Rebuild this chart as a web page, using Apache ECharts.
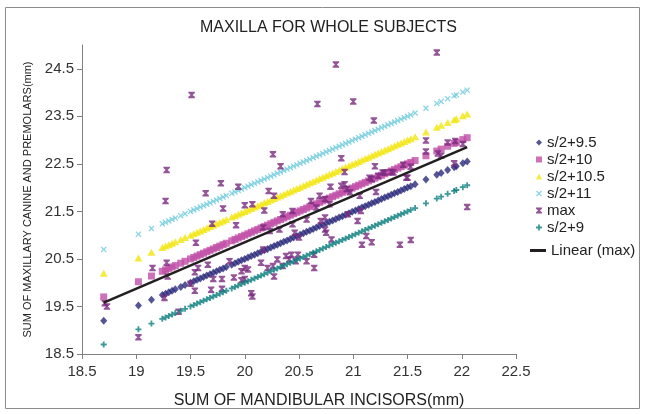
<!DOCTYPE html>
<html>
<head>
<meta charset="utf-8">
<script src="https://cdn.jsdelivr.net/npm/echarts@6/dist/echarts.min.js"></script>
<style>
html,body{margin:0;padding:0;background:#fff;}
#c{width:645px;height:414px;}
</style>
</head>
<body>
<div id="c"></div>
<script>
// ---- data ----
var sValues = [18.70,19.02,19.14,19.24,19.27,19.30,19.33,19.36,19.41,19.45,
19.50,19.53,19.56,19.59,19.62,19.65,19.68,19.71,19.74,19.77,
19.80,19.83,19.88,19.91,19.94,19.97,20.00,20.03,20.06,20.09,
20.12,20.15,20.18,20.21,20.24,20.27,20.30,20.33,20.36,20.39,
20.42,20.45,20.48,20.51,20.54,20.57,20.60,20.63,20.66,20.69,
20.72,20.75,20.78,20.81,20.84,20.87,20.90,20.93,20.96,20.99,
21.02,21.05,21.08,21.11,21.14,21.17,21.20,21.23,21.26,21.29,
21.32,21.35,21.38,21.41,21.44,21.47,21.50,21.53,21.57,21.67,
21.77,21.81,21.87,21.93,21.95,22.01,22.05];

var ySPlus9 = [18.70,19.02,19.14,19.24,19.27,19.30,19.33,19.36,19.41,19.45,
19.50,19.53,19.56,19.59,19.62,19.65,19.68,19.71,19.74,19.77,
19.80,19.83,19.88,19.91,19.94,19.97,20.00,20.03,20.06,20.09,
20.12,20.15,20.18,20.21,20.24,20.27,20.30,20.33,20.36,20.39,
20.42,20.45,20.48,20.51,20.54,20.57,20.60,20.63,20.66,20.69,
20.72,20.75,20.78,20.81,20.84,20.87,20.90,20.93,20.96,20.99,
21.02,21.05,21.08,21.11,21.14,21.17,21.20,21.23,21.26,21.29,
21.32,21.35,21.38,21.41,21.44,21.47,21.50,21.53,21.57,21.67,
21.77,21.81,21.87,21.93,21.95,22.01,22.05];

var ySPlus95 = [19.20,19.52,19.64,19.74,19.77,19.80,19.83,19.86,19.91,19.95,
20.00,20.03,20.06,20.09,20.12,20.15,20.18,20.21,20.24,20.27,
20.30,20.33,20.38,20.41,20.44,20.47,20.50,20.53,20.56,20.59,
20.62,20.65,20.68,20.71,20.74,20.77,20.80,20.83,20.86,20.89,
20.92,20.95,20.98,21.01,21.04,21.07,21.10,21.13,21.16,21.19,
21.22,21.25,21.28,21.31,21.34,21.37,21.40,21.43,21.46,21.49,
21.52,21.55,21.58,21.61,21.64,21.67,21.70,21.73,21.76,21.79,
21.82,21.85,21.88,21.91,21.94,21.97,22.00,22.03,22.07,22.17,
22.27,22.31,22.37,22.43,22.45,22.51,22.55];

var ySPlus10 = [19.70,20.02,20.14,20.24,20.27,20.30,20.33,20.36,20.41,20.45,
20.50,20.53,20.56,20.59,20.62,20.65,20.68,20.71,20.74,20.77,
20.80,20.83,20.88,20.91,20.94,20.97,21.00,21.03,21.06,21.09,
21.12,21.15,21.18,21.21,21.24,21.27,21.30,21.33,21.36,21.39,
21.42,21.45,21.48,21.51,21.54,21.57,21.60,21.63,21.66,21.69,
21.72,21.75,21.78,21.81,21.84,21.87,21.90,21.93,21.96,21.99,
22.02,22.05,22.08,22.11,22.14,22.17,22.20,22.23,22.26,22.29,
22.32,22.35,22.38,22.41,22.44,22.47,22.50,22.53,22.57,22.67,
22.77,22.81,22.87,22.93,22.95,23.01,23.05];

var ySPlus105 = [20.20,20.52,20.64,20.74,20.77,20.80,20.83,20.86,20.91,20.95,
21.00,21.03,21.06,21.09,21.12,21.15,21.18,21.21,21.24,21.27,
21.30,21.33,21.38,21.41,21.44,21.47,21.50,21.53,21.56,21.59,
21.62,21.65,21.68,21.71,21.74,21.77,21.80,21.83,21.86,21.89,
21.92,21.95,21.98,22.01,22.04,22.07,22.10,22.13,22.16,22.19,
22.22,22.25,22.28,22.31,22.34,22.37,22.40,22.43,22.46,22.49,
22.52,22.55,22.58,22.61,22.64,22.67,22.70,22.73,22.76,22.79,
22.82,22.85,22.88,22.91,22.94,22.97,23.00,23.03,23.07,23.17,
23.27,23.31,23.37,23.43,23.45,23.51,23.55];

var ySPlus11 = [20.70,21.02,21.14,21.24,21.27,21.30,21.33,21.36,21.41,21.45,
21.50,21.53,21.56,21.59,21.62,21.65,21.68,21.71,21.74,21.77,
21.80,21.83,21.88,21.91,21.94,21.97,22.00,22.03,22.06,22.09,
22.12,22.15,22.18,22.21,22.24,22.27,22.30,22.33,22.36,22.39,
22.42,22.45,22.48,22.51,22.54,22.57,22.60,22.63,22.66,22.69,
22.72,22.75,22.78,22.81,22.84,22.87,22.90,22.93,22.96,22.99,
23.02,23.05,23.08,23.11,23.14,23.17,23.20,23.23,23.26,23.29,
23.32,23.35,23.38,23.41,23.44,23.47,23.50,23.53,23.57,23.67,
23.77,23.81,23.87,23.93,23.95,24.01,24.05];

var maxX = [19.51,19.28,19.78,19.94,21.77,20.84,20.67,21.00,21.19,20.26,
20.33,20.89,21.20,20.92,20.79,21.67,21.67,21.78,21.46,21.53,
21.27,21.35,21.15,21.23,21.50,20.92,21.87,21.94,22.01,21.93,
22.05,21.81,19.27,19.64,19.80,20.00,20.07,19.70,19.92,19.55,
19.28,19.15,19.57,19.54,19.66,19.86,20.00,20.03,19.97,19.90,
20.00,19.71,19.79,19.29,19.97,19.50,19.69,19.79,19.54,20.06,
20.07,19.26,18.71,18.73,19.39,19.02,20.22,20.27,20.18,20.61,
20.69,20.74,20.78,20.66,20.89,20.94,20.97,21.06,21.21,21.17,
21.29,21.37,20.44,20.35,20.17,20.23,20.32,20.44,20.57,20.70,
20.74,20.46,20.50,20.74,20.75,20.80,20.95,21.07,21.04,21.12,
21.17,21.08,21.53,21.43,20.17,20.30,20.26,20.21,20.35,20.38,
20.43,20.49,20.41,20.47,20.57,20.64,20.64,20.27,20.15,21.49];

var maxY = [23.95,22.37,22.09,22.02,24.84,24.59,23.76,23.81,23.41,22.70,
22.45,22.62,22.45,22.33,22.02,22.99,22.76,22.72,22.48,22.44,
22.32,22.33,22.21,22.25,22.21,22.07,22.95,22.98,22.92,22.51,
21.59,22.67,21.72,21.88,21.56,21.63,21.65,21.24,21.21,20.84,
20.42,20.31,20.31,20.22,20.38,20.45,20.31,20.28,20.24,20.11,
20.08,20.08,20.08,20.13,20.05,19.98,19.85,19.87,19.83,19.78,
19.71,19.68,19.57,19.50,19.39,18.85,21.93,21.83,21.52,21.72,
21.83,21.76,21.65,21.58,22.04,21.97,21.90,21.83,21.91,22.18,
22.32,22.32,21.51,21.44,21.16,21.09,21.12,21.23,21.33,21.30,
21.37,21.05,20.95,21.12,21.05,20.91,21.44,21.51,21.30,20.98,
20.85,20.80,20.90,20.80,20.70,20.49,20.35,20.31,20.35,20.56,
20.59,20.59,20.49,20.45,20.45,20.31,20.59,20.13,20.42,22.21];

var trendX = [18.70, 22.05];
var trendY = [19.58, 22.85];

var xTicks = [18.5,19,19.5,20,20.5,21,21.5,22,22.5];
var yTicks = [18.5,19.5,20.5,21.5,22.5,23.5,24.5];

var markerNames = ['s/2+9.5','s/2+10','s/2+10.5','s/2+11','max','s/2+9'];
var lineNames = ['Linear (max)'];

function pairs(xs, ys){ var out=[]; for(var i=0;i<xs.length;i++) out.push([xs[i], ys[i]]); return out; }

var SYM_X = 'path://M0,1.5 L1.5,0 L5,3.5 L8.5,0 L10,1.5 L6.5,5 L10,8.5 L8.5,10 L5,6.5 L1.5,10 L0,8.5 L3.5,5 Z';
var SYM_PLUS = 'path://M3.5,0 H6.5 V3.5 H10 V6.5 H6.5 V10 H3.5 V6.5 H0 V3.5 H3.5 Z';
var SYM_HOUR = 'path://M0,0 H10 V2 L6.5,5 L10,8 V10 H0 V8 L3.5,5 L0,2 Z';

var FONT = 'Liberation Sans, Arial, sans-serif';

var chart = echarts.init(document.getElementById('c'), null, {renderer:'canvas'});
chart.setOption({
  animation: false,
  backgroundColor: '#ffffff',
  textStyle: {fontFamily: FONT},
  title: {
    text: 'MAXILLA FOR WHOLE SUBJECTS',
    left: 195, top: 15,
    textStyle: {fontFamily: FONT, fontSize: 16, fontWeight: 'normal', color: '#222'}
  },
  graphic: [{
    type: 'rect', shape: {x: 5.5, y: 7.5, width: 634, height: 401},
    style: {fill: 'none', stroke: '#8c8c8c', lineWidth: 1}, silent: true, z: -1
  }],
  grid: {left: 82, right: 129, top: 45, bottom: 60},
  legend: [{
    orient: 'vertical', left: 531, top: 130,
    itemWidth: 6, itemHeight: 6, itemGap: 2,
    textStyle: {fontFamily: FONT, fontSize: 15, color: '#222'},
    data: markerNames
  }, {
    orient: 'vertical', left: 525, top: 238,
    itemWidth: 16, itemHeight: 3,
    icon: 'rect',
    textStyle: {fontFamily: FONT, fontSize: 15, color: '#222'},
    data: lineNames
  }],
  xAxis: {
    type: 'value', min: 18.5, max: 22.5, interval: 0.5,
    name: 'SUM OF MANDIBULAR INCISORS(mm)', nameLocation: 'middle', nameGap: 39,
    nameTextStyle: {fontFamily: FONT, fontSize: 16, color: '#222', padding: [0, 0, 0, 40]},
    axisLine: {show: true, lineStyle: {color: '#808080', width: 1}},
    axisTick: {show: true, length: 5, inside: false, customValues: xTicks, lineStyle: {color: '#808080'}},
    axisLabel: {customValues: xTicks, fontFamily: FONT, fontSize: 15, color: '#333', margin: 10},
    splitLine: {show: false}
  },
  yAxis: {
    type: 'value', min: 18.5, max: 25, interval: 1,
    name: 'SUM OF MAXILLARY CANINE AND PREMOLARS(mm)', nameLocation: 'middle', nameGap: 48,
    nameTextStyle: {fontFamily: FONT, fontSize: 11, color: '#222'},
    axisLine: {show: true, lineStyle: {color: '#808080', width: 1}},
    axisTick: {show: true, length: 5, inside: false, customValues: yTicks, lineStyle: {color: '#808080'}},
    axisLabel: {customValues: yTicks, fontFamily: FONT, fontSize: 15, color: '#333', margin: 8},
    splitLine: {show: false}
  },
  series: [
    {name: 's/2+9.5', type: 'scatter', symbol: 'diamond', symbolSize: [7,8],
     itemStyle: {color: '#2a2a7c'}, data: pairs(sValues, ySPlus95), z: 2},
    {name: 's/2+10', type: 'scatter', symbol: 'rect', symbolSize: 7,
     itemStyle: {color: '#c04fa8'}, data: pairs(sValues, ySPlus10), z: 2},
    {name: 's/2+10.5', type: 'scatter', symbol: 'triangle', symbolSize: [8,7],
     itemStyle: {color: '#f2e60f'}, data: pairs(sValues, ySPlus105), z: 2},
    {name: 's/2+11', type: 'scatter', symbol: SYM_X, symbolSize: 6,
     itemStyle: {color: '#6ccbdc'}, data: pairs(sValues, ySPlus11), z: 2},
    {name: 'max', type: 'scatter', symbol: SYM_HOUR, symbolSize: 6.5,
     itemStyle: {color: '#7b2a80'}, data: pairs(maxX, maxY), z: 3},
    {name: 's/2+9', type: 'scatter', symbol: SYM_PLUS, symbolSize: 6,
     itemStyle: {color: '#0e8080'}, data: pairs(sValues, ySPlus9), z: 3},
    {name: 'Linear (max)', type: 'line', symbol: 'none', showSymbol: false,
     lineStyle: {color: '#231f20', width: 2.5}, itemStyle: {color: '#231f20'},
     data: pairs(trendX, trendY), z: 4}
  ]
});
</script>
</body>
</html>
